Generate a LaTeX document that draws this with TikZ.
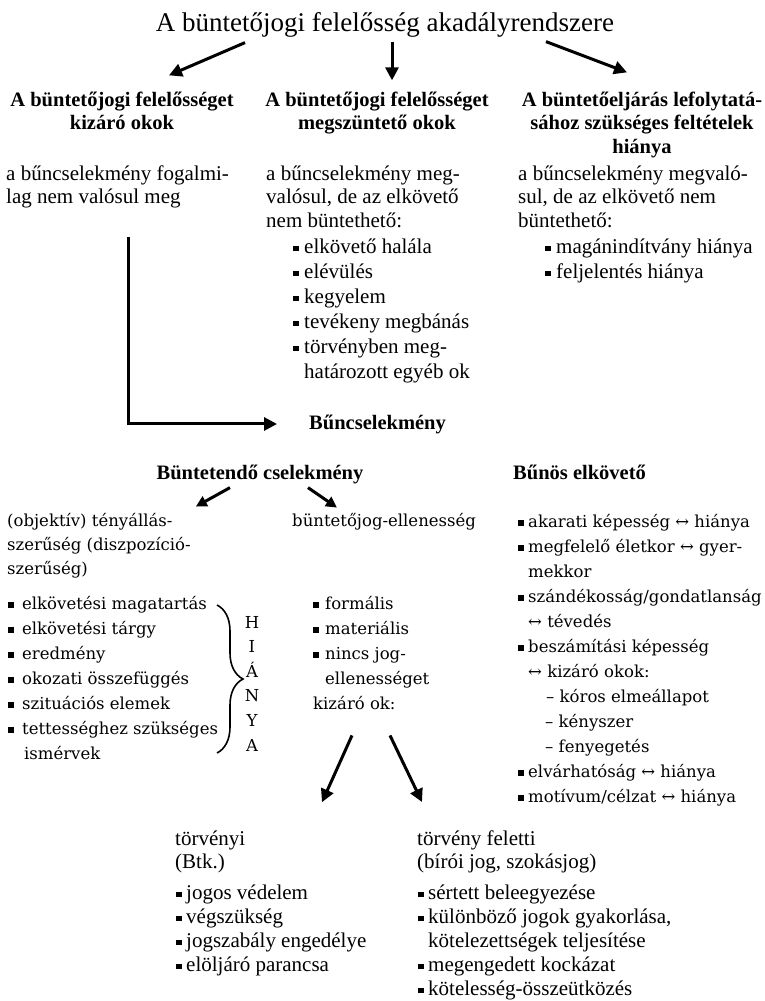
\documentclass[tikz,border=0pt]{standalone}
\usepackage{fontspec}
\setmainfont{Liberation Serif}
\newfontfamily\wideserif{DejaVu Serif}
\usetikzlibrary{arrows.meta,decorations.pathreplacing}

% square bullet and hanging indent
\newcommand{\sqbul}[1][11pt]{\makebox[#1][l]{\rule[0.09em]{5.5pt}{5.5pt}}}
\newcommand{\hang}[1][11pt]{\hspace*{#1}}

\begin{document}
\begin{tikzpicture}[x=1pt, y=-1pt,
  arr/.style={line width=3pt, -{Triangle[length=13pt,width=13pt]}},
  small arr/.style={line width=3pt, -{Triangle[length=11pt,width=11pt]}},
  head/.style={font=\bfseries\fontsize{20.5}{23.5}\selectfont, align=center, inner sep=0pt, anchor=base},
  body/.style={font=\fontsize{21}{23.5}\selectfont, align=left, inner sep=0pt, anchor=base west},
  body list/.style={body, font=\fontsize{21}{25}\selectfont},
  wide/.style={font=\wideserif\fontsize{16.5}{24}\selectfont, align=left, inner sep=0pt, anchor=base west},
  wide list/.style={wide, font=\wideserif\fontsize{16.5}{25}\selectfont}]
  \useasboundingbox (0,0) rectangle (765,1001);

  % Title
  \node[inner sep=0pt, font=\fontsize{27}{30}\selectfont] (title) at (385,25) {A büntetőjogi felelősség akadályrendszere};

  % Three groups of obstacles (base = last line)
  \node[head] (kizaro) at (122,129.5) {A büntetőjogi felelősséget\\kizáró okok};
  \node[head] (megszunteto) at (377,129.5) {A büntetőjogi felelősséget\\megszüntető okok};
  \node[head] (eljarasi) at (642,153) {A büntetőeljárás lefolytatá-\\sához szükséges feltételek\\hiánya};

  \draw[arr] ([xshift=-140pt,yshift=-5pt]title.south) -- ([xshift=47pt,yshift=16pt]kizaro.north);
  \draw[arr] ([xshift=7pt,yshift=-4pt]title.south) -- ([xshift=15pt,yshift=11pt]megszunteto.north);
  \draw[arr] ([xshift=161pt,yshift=-4pt]title.south) -- ([xshift=-15pt,yshift=19pt]eljarasi.north);

  % Columns
  \node[body] (fogalmi) at (6,203.5) {a bűncselekmény fogalmi-\\lag nem valósul meg};
  \node[body] (megvalosul) at (266,227) {a bűncselekmény meg-\\valósul, de az elkövető\\nem büntethető:};
  \node[body list] (megszlist) at (293,378) {\sqbul elkövető halála\\ \sqbul elévülés\\ \sqbul kegyelem\\ \sqbul tevékeny megbánás\\ \sqbul törvényben meg-\\ \hang határozott egyéb ok};
  \node[body] (eljmegvalo) at (518,227) {a bűncselekmény megvaló-\\sul, de az elkövető nem\\büntethető:};
  \node[body list] (eljlist) at (545,278) {\sqbul magánindítvány hiánya\\ \sqbul feljelentés hiánya};

  \node[head, anchor=base west] (buncs) at (309,429) {Bűncselekmény};
  \coordinate (lstart) at (128,237);
  \draw[arr, shorten >=32pt] (lstart) |- (buncs.west);

  % Elements of the crime
  \node[head] (buntetendo) at (260,479) {Büntetendő cselekmény};
  \node[head, anchor=base west] (bunos) at (513,479) {Bűnös elkövető};

  \node[wide] (objektiv) at (7,574) {(objektív) tényállás-\\szerűség (diszpozíció-\\szerűség)};
  \node[wide] (jogellen) at (292,526) {büntetőjog-ellenesség};
  \draw[small arr] ([xshift=-30pt,yshift=-4pt]buntetendo.south) -- ([xshift=5pt,yshift=6pt]objektiv.north east);
  \draw[small arr] ([xshift=48pt,yshift=-4pt]buntetendo.south) -- ([xshift=45pt,yshift=5pt]jogellen.north west);

  \node[wide list] (tenyallas) at (8,759) {\sqbul[14pt]elkövetési magatartás\\ \sqbul[14pt]elkövetési tárgy\\ \sqbul[14pt]eredmény\\ \sqbul[14pt]okozati összefüggés\\ \sqbul[14pt]szituációs elemek\\ \sqbul[14pt]tettességhez szükséges\\ \hang[16pt]ismérvek};
  \draw[line width=1.6pt, decorate, decoration={brace, amplitude=26pt}] (217,605) -- (217,753);
  \node[wide, align=center, anchor=base, font=\wideserif\fontsize{16.5}{24.6}\selectfont] (hianya) at (252,751) {H\\I\\Á\\N\\Y\\A};

  \node[wide list] (jogellenlist) at (313,709) {\sqbul[12pt]formális\\ \sqbul[12pt]materiális\\ \sqbul[12pt]nincs jog-\\ \hang[12pt]ellenességet\\kizáró ok:};

  \node[wide list] (bunoslist) at (518,802) {\sqbul[10pt]akarati képesség ↔ hiánya\\ \sqbul[10pt]megfelelő életkor ↔ gyer-\\ \hang[10pt]mekkor\\ \sqbul[10pt]szándékosság/gondatlanság\\ \hang[10pt]↔ tévedés\\ \sqbul[10pt]beszámítási képesség\\ \hang[10pt]↔ kizáró okok:\\ \hang[28pt]– kóros elmeállapot\\ \hang[27pt]– kényszer\\ \hang[27pt]– fenyegetés\\ \sqbul[10pt]elvárhatóság ↔ hiánya\\ \sqbul[10pt]motívum/célzat ↔ hiánya};

  % Grounds excluding unlawfulness
  \node[body] (torvenyi) at (175,868.5) {törvényi\\(Btk.)};
  \node[body, font=\fontsize{21}{24}\selectfont] (torvenyilist) at (176,971) {\sqbul[10pt]jogos védelem\\ \sqbul[10pt]végszükség\\ \sqbul[10pt]jogszabály engedélye\\ \sqbul[10pt]elöljáró parancsa};
  \node[body] (feletti) at (417,868.5) {törvény feletti\\(bírói jog, szokásjog)};
  \node[body, font=\fontsize{21}{24}\selectfont] (felettilist) at (418,995) {\sqbul[10pt]sértett beleegyezése\\ \sqbul[10pt]különböző jogok gyakorlása,\\ \hang[10pt]kötelezettségek teljesítése\\ \sqbul[10pt]megengedett kockázat\\ \sqbul[10pt]kötelesség-összeütközés};

  \draw[arr] ([xshift=39pt,yshift=-26pt]jogellenlist.south west) -- ([xshift=147pt,yshift=28pt]torvenyi.north west);
  \draw[arr] ([xshift=77pt,yshift=-26pt]jogellenlist.south west) -- ([xshift=5pt,yshift=28pt]feletti.north west);
\end{tikzpicture}
\end{document}
